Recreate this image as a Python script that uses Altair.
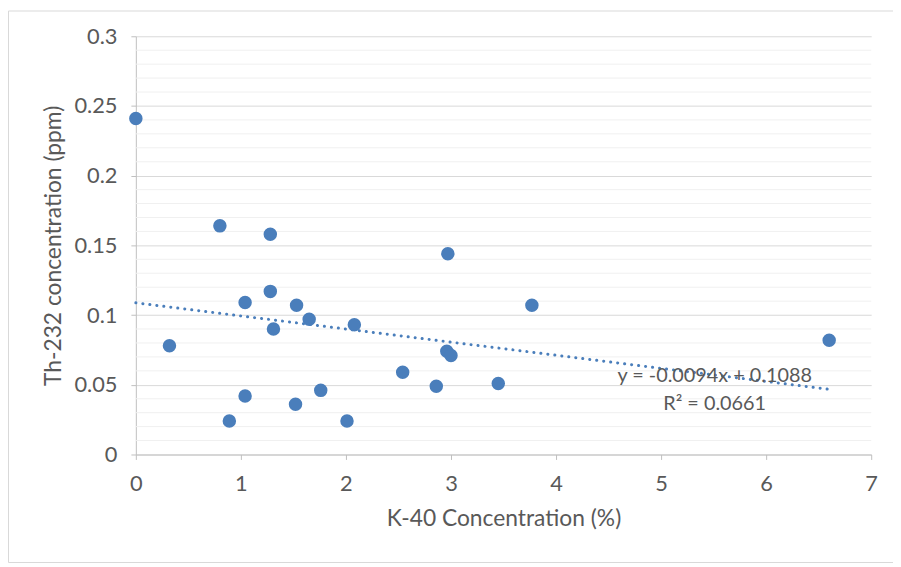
import altair as alt
import pandas as pd

# K-40 concentration (%) and Th-232 concentration (ppm)
k40 = [0.00, 0.32, 0.80, 0.89, 1.04, 1.04, 1.28, 1.28, 1.31, 1.52, 1.53, 1.65,
       1.76, 2.01, 2.08, 2.54, 2.86, 2.96, 3.00, 2.97, 3.45, 3.77, 6.60]
th232 = [0.241, 0.078, 0.164, 0.024, 0.109, 0.042, 0.158, 0.117, 0.090, 0.036,
         0.107, 0.097, 0.046, 0.024, 0.093, 0.059, 0.049, 0.074, 0.071, 0.144,
         0.051, 0.107, 0.082]

slope = -0.0094
intercept = 0.1088
trend_x = [0.0, 6.6]
eq_lines = ["y = -0.0094x + 0.1088", "R\u00b2 = 0.0661"]
eq_x = [5.51, 5.51]
eq_y = [0.0565, 0.0365]

major_y = [0, 0.05, 0.1, 0.15, 0.2, 0.25, 0.3]
minor_y = [round(i / 100, 2) for i in range(1, 30) if i % 5 != 0]
x_ticks = [0, 1, 2, 3, 4, 5, 6, 7]

FONT = "Lato"
GRAY = "#595959"
BLUE = "#4a7ebb"

pts = pd.DataFrame({"k": k40, "th": th232})
trend = pd.DataFrame({"k": trend_x, "th": [slope * v + intercept for v in trend_x]})
eq = pd.DataFrame({"k": eq_x, "th": eq_y, "t": eq_lines})
minor = pd.DataFrame({"th": minor_y})

xs = alt.Scale(domain=[0, 7], nice=False)
ys = alt.Scale(domain=[0, 0.3], nice=False)

frame = alt.Chart(pd.DataFrame({"a": [0]})).mark_rect(
    fill=None, stroke="#d9d9d9", strokeWidth=1
).encode(x=alt.value(-128.5), x2=alt.value(780), y=alt.value(-25.5), y2=alt.value(531))

minor_grid = alt.Chart(minor).mark_rule(color="#f0f0f0", strokeWidth=1).encode(
    y=alt.Y("th:Q", scale=ys)
)

points = alt.Chart(pts).mark_circle(size=185, color=BLUE, opacity=1).encode(
    x=alt.X(
        "k:Q", scale=xs,
        axis=alt.Axis(
            values=x_ticks, format="d", title="K-40 Concentration (%)", grid=False,
            labelFlush=False, domainColor="#bfbfbf", tickColor="#bfbfbf", tickSize=5,
            labelPadding=14, titlePadding=14,
        ),
    ),
    y=alt.Y(
        "th:Q", scale=ys,
        axis=alt.Axis(
            values=major_y, format=".2~f", title="Th-232 concentration (ppm)",
            labelFlush=False, gridColor="#d9d9d9", domainColor="#bfbfbf",
            tickColor="#bfbfbf", tickSize=5, labelPadding=14, titlePadding=9,
        ),
    ),
)

trend_line = alt.Chart(trend).mark_line(
    color=BLUE, strokeWidth=3, strokeDash=[0.1, 7], strokeCap="round"
).encode(x=alt.X("k:Q", scale=xs), y=alt.Y("th:Q", scale=ys))

eq_text = alt.Chart(eq).mark_text(
    font=FONT, fontSize=20, color=GRAY, align="center", baseline="middle"
).encode(x=alt.X("k:Q", scale=xs), y=alt.Y("th:Q", scale=ys), text="t:N")

chart = alt.layer(frame, minor_grid, points, trend_line, eq_text).properties(
    width=742, height=422,
    autosize=alt.AutoSizeParams(type="none"),
    padding={"left": 129, "top": 26, "right": 22, "bottom": 111},
).configure_view(stroke=None).configure_axis(
    labelFont=FONT, labelFontSize=22, labelColor=GRAY,
    titleFont=FONT, titleFontSize=23, titleColor=GRAY, titleFontWeight="normal",
)

chart.save("out.html", embed_options={"renderer": "svg", "actions": False})
